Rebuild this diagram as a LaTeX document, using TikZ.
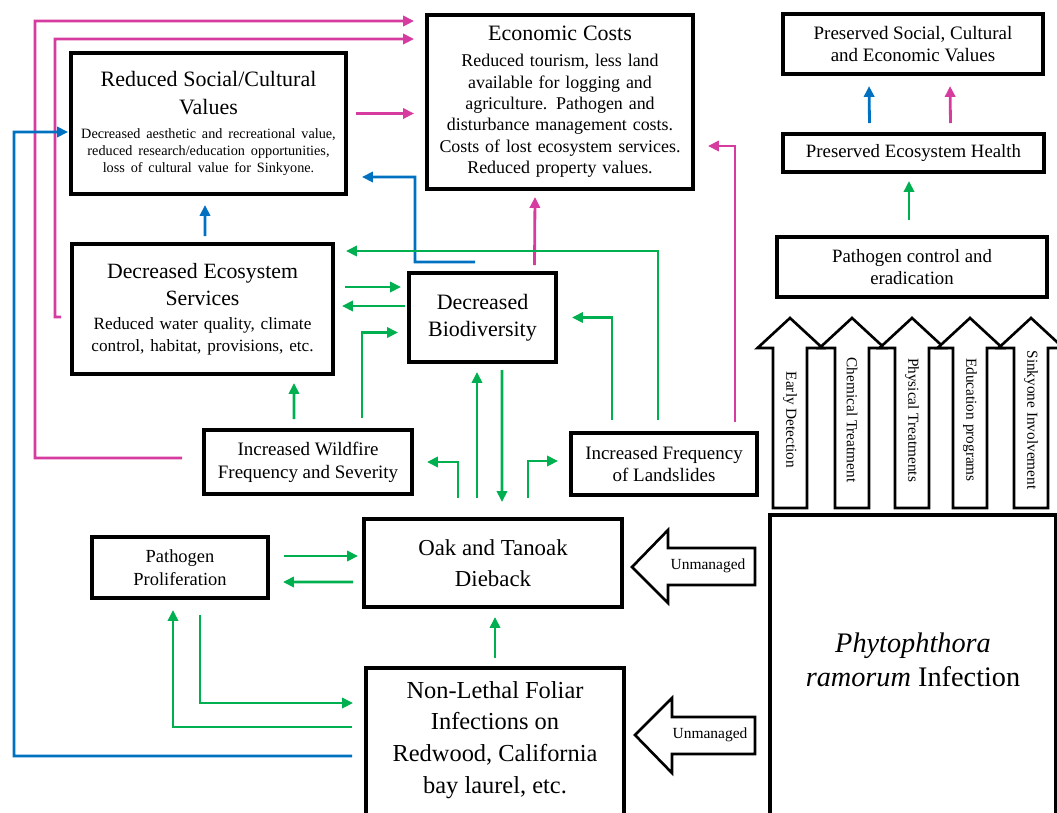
\documentclass[tikz,border=0pt]{standalone}
\usepackage{fontspec}
\setmainfont{Liberation Serif}
\usetikzlibrary{calc}
\usetikzlibrary{arrows.meta}

\definecolor{magline}{RGB}{214,60,160}
\definecolor{bluline}{RGB}{0,112,192}
\definecolor{grnline}{RGB}{0,176,80}

\newcommand{\fs}[2]{\fontsize{#1}{#2}\selectfont}

\tikzset{
  box/.style={draw, line width=2pt, align=center, inner sep=0pt, outer sep=0pt},
  conn/.style={line width=1.6pt, -{Triangle[length=6.2pt,width=5.8pt]}},
  mag/.style={conn, magline},
  blu/.style={conn, bluline},
  grn/.style={conn, grnline},
  blockarrow/.style={draw, line width=1.5pt, fill=white, line join=miter},
}

\begin{document}
\begin{tikzpicture}[x=0.02cm, y=-0.02cm]
\useasboundingbox (0,0) rectangle (1057,812);
\clip (0,0) rectangle (1057,812);

% boxes
\node[box, minimum width=5.5cm, minimum height=2.82cm, text width=5.3cm] (RSCV) at (208.5,123.5)
  {{\fs{12.5}{15.5}Reduced Social/Cultural\\Values\par}\vspace{4pt}
   {\fs{8.1}{9.7}Decreased aesthetic and recreational value,\\reduced research/education opportunities,\\loss of cultural value for Sinkyone.\par}};
\node[box, minimum width=5.32cm, minimum height=3.48cm, text width=5.1cm] (EC) at (560,102)
  {{\fs{12.5}{15.5}Economic Costs\par}\vspace{2.5pt}
   {\fs{10.2}{12.2}Reduced tourism, less land\\available for logging and\\agriculture. Pathogen and\\disturbance management costs.\\Costs of lost ecosystem services.\\Reduced property values.\par}};
\node[box, minimum width=5.2cm, minimum height=1.2cm, font=\fs{10.8}{12.5}] (PSCEV) at (913,44)
  {Preserved Social, Cultural\\and Economic Values};
\node[box, minimum width=5.22cm, minimum height=0.76cm, font=\fs{10.7}{12.5}] (PEH) at (913.5,153)
  {Preserved Ecosystem Health};
\node[box, minimum width=5.4cm, minimum height=1.2cm, font=\fs{10.7}{13}] (PCE) at (912,267)
  {Pathogen control and\\eradication};
\node[box, minimum width=5.22cm, minimum height=2.6cm, text width=5.1cm] (DES) at (202.5,309)
  {{\fs{12.4}{15.5}Decreased Ecosystem\\Services\par}\vspace{1.2pt}
   {\fs{9.8}{12.5}Reduced water quality, climate\\control, habitat, provisions, etc.\par}};
\node[box, minimum width=2.94cm, minimum height=1.78cm, font=\fs{12.5}{15.3}] (DB) at (482.5,317.5)
  {Decreased\\Biodiversity};
\node[box, minimum width=4.16cm, minimum height=1.28cm, font=\fs{10.8}{13}] (IWFS) at (308,462)
  {Increased Wildfire\\Frequency and Severity};
\node[box, minimum width=3.72cm, minimum height=1.24cm, font=\fs{10.8}{13}] (IFL) at (664,464)
  {Increased Frequency\\of Landslides};
\node[box, minimum width=5.16cm, minimum height=1.76cm, font=\fs{13}{17.6}] (OTD) at (493,563)
  {Oak and Tanoak\\Dieback};
\node[box, minimum width=3.52cm, minimum height=1.22cm, font=\fs{10.5}{13}] (PP) at (180,567.5)
  {Pathogen\\Proliferation};
\node[box, minimum width=5.16cm, minimum height=3.24cm] (NLFI) at (495,749) {};
\node[font=\fs{13.9}{18.1}, align=center] (NLFItxt) at (495,740)
  {Non-Lethal Foliar\\Infections on\\Redwood, California\\bay laurel, etc.};
\node[box, minimum width=5.72cm, minimum height=6.6cm] (PRI) at (913,680) {};
\node[font=\fs{16.1}{19.3}, align=center] (PRItxt) at (913,660)
  {\textit{Phytophthora}\\\textit{ramorum} Infection};

% management arrows
\foreach \cx/\lbl [count=\i] in {790/Early Detection, 852/Chemical Treatment,
    912/Physical Treatments, 970/Education programs, 1031/Sinkyone Involvement} {
  \draw[blockarrow] (\cx-17,508) -- (\cx-17,348) -- (\cx-32.5,348) -- (\cx,318)
    -- (\cx+32.5,348) -- (\cx+17,348) -- (\cx+17,508) -- cycle;
  \node[rotate=-90, font=\fs{8.7}{10}] (ctl\i) at (\cx,420) {\lbl};
}
\draw[blockarrow] (632,567) -- (668,530) -- (668,548) -- (755,548) -- (755,585)
  -- (668,585) -- (668,603) -- cycle;
\node[font=\fs{8.8}{10}] (um1) at (708,566) {Unmanaged};
\draw[blockarrow] (635,735) -- (672,698) -- (672,717) -- (755,717) -- (755,754)
  -- (672,754) -- (672,773) -- cycle;
\node[font=\fs{8.8}{10}] (um2) at (710,735) {Unmanaged};

% economic links
\draw[mag] ($(IWFS.west)+(-22,-4)$) -| (35,21) -- ($(EC.north west)+(-13,6)$);
\draw[mag] ($(DES.west)+(-11,8)$) -| (55,39) -- ($(EC.north west)+(-13,24)$);
\draw[mag] ($(RSCV.east)+(10,-10)$) -- ($(EC.west)+(-13,11.5)$);
\draw[mag] ($(DB.north)+(52,-8)$) -- ($(EC.south)+(-25,8)$);
\draw[mag] ($(IFL.north east)+(-22,-11)$) |- ($(EC.east)+(15,44)$);
\draw[mag] ($(PEH.north)+(37,-11)$) -- ($(PSCEV.south)+(37,12)$);

% social links
\draw[blu] ($(NLFI.west)+(-14,7)$) -| (14,132) -- ($(RSCV.west)+(-3,8.5)$);
\draw[blu] ($(DES.north)+(2.5,-8)$) -- ($(RSCV.south)+(-3.5,11)$);
\draw[blu] ($(DB.north west)+(66,-11)$) -| (415,177) -- ($(RSCV.south east)+(16,-17)$);
\draw[blu] ($(PEH.north)+(-44,-11)$) -- ($(PSCEV.south)+(-44,12)$);

% ecological links
\draw[grn] ($(IFL.north west)+(87,-13)$) |- ($(DES.north east)+(13,7)$);
\draw[grn] ($(DES.east)+(12,-22)$) -- ($(DB.west)+(-8,-30.5)$);
\draw[grn] ($(DB.west)+(-4,-11.5)$) -- ($(DES.east)+(9,-3)$);
\draw[grn] ($(IWFS.north east)+(-50,-12)$) |- ($(DB.west)+(-11,15)$);
\draw[grn] ($(IWFS.north west)+(90,-11)$) -- ($(DES.south)+(91.5,9)$);
\draw[grn] ($(IFL.north west)+(41,-13)$) |- ($(DB.east)+(16,0)$);
\draw[grn] ($(OTD.north west)+(94,-21)$) |- ($(IWFS.east)+(15,0)$);
\draw[grn] ($(OTD.north)+(-16,-21)$) -- ($(DB.south)+(-5.5,10)$);
\draw[grn] ($(DB.south)+(19.5,8)$) -- ($(OTD.north)+(9,-17)$);
\draw[grn] ($(OTD.north)+(35,-21)$) |- ($(IFL.west)+(-13,-3)$);
\draw[grn] ($(PP.east)+(16,-11.5)$) -- ($(OTD.west)+(-6,-7)$);
\draw[grn] ($(OTD.west)+(-11,19)$) -- ($(PP.east)+(15,14.5)$);
\draw[grn] ($(PP.south)+(20,17)$) |- ($(NLFI.west)+(-13,-46)$);
\draw[grn] ($(NLFI.west)+(-14,-22)$) -| ($(PP.south)+(-7,12)$);
\draw[grn] ($(NLFI.north)+(0,-10)$) -- ($(OTD.south)+(2,10)$);
\draw[grn] ($(PCE.north)+(-3,-17)$) -- ($(PEH.south)+(-4.5,9)$);
\end{tikzpicture}
\end{document}
